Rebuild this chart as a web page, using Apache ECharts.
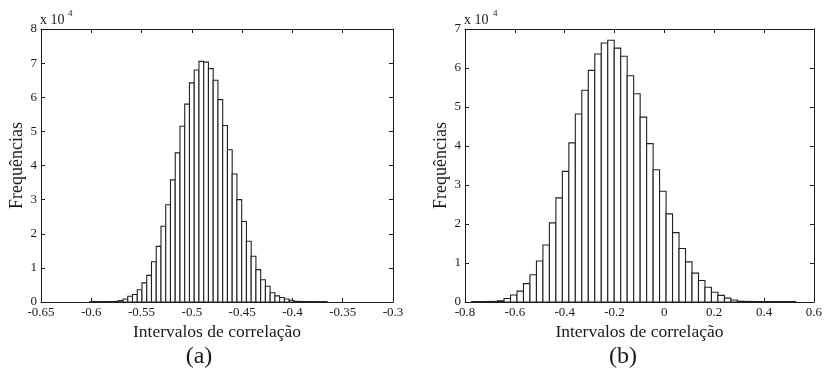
<!DOCTYPE html>
<html>
<head>
<meta charset="utf-8">
<script src="https://cdn.jsdelivr.net/npm/echarts@6/dist/echarts.min.js"></script>
<style>
  html, body { margin: 0; padding: 0; background: #fff; }
  #chart { width: 825px; height: 372px; }
</style>
</head>
<body>
<div id="chart"></div>
<script>
// Histogram (a): 50 equal bins, counts in units of 10^4
const binStartA = -0.6015;
const binWidthA = 0.00472;
const countsA = [
  0.012, 0.012, 0.012, 0.013, 0.014, 0.018,
  0.04, 0.09, 0.17, 0.22, 0.36, 0.56, 0.78, 1.18, 1.63, 2.22,
  2.85, 3.58, 4.37, 5.15, 5.80, 6.42, 6.80, 7.05, 7.03, 6.84,
  6.50, 5.93, 5.17, 4.46, 3.75, 3.00, 2.36, 1.78, 1.34, 0.95,
  0.65, 0.46, 0.27, 0.18, 0.13, 0.09, 0.05,
  0.02, 0.015, 0.013, 0.012, 0.012, 0.012, 0.012
];

// Histogram (b): 50 equal bins, counts in units of 10^4
const binStartB = -0.7734;
const binWidthB = 0.02601;
const countsB = [
  0.012, 0.012, 0.013, 0.015,
  0.03, 0.09, 0.18, 0.28, 0.47, 0.70, 1.05, 1.46, 2.03, 2.67,
  3.35, 4.08, 4.82, 5.43, 5.94, 6.36, 6.64, 6.71, 6.51, 6.30,
  5.80, 5.34, 4.74, 4.06, 3.39, 2.84, 2.26, 1.78, 1.37, 1.03,
  0.74, 0.55, 0.38, 0.25, 0.17, 0.10, 0.05,
  0.02, 0.015, 0.013, 0.012, 0.012, 0.012, 0.012, 0.012, 0.012
];

// Axis ranges and tick steps
const xRangeA = { min: -0.65, max: -0.3, step: 0.05 };
const yRangeA = { min: 0, max: 8, step: 1 };
const xRangeB = { min: -0.8, max: 0.6, step: 0.2 };
const yRangeB = { min: 0, max: 7, step: 1 };

const xTitle = 'Intervalos de correlação';
const yTitle = 'Frequências';
const panelLabels = ['(a)', '(b)'];
const scaleMark = 'x 10';
const scaleExp = '4';

const serif = '"Liberation Serif", "Times New Roman", "DejaVu Serif", serif';
const ink = '#1a1a1a';

function binRows(start, width, counts) {
  return counts.map((c, i) => {
    const lo = start + i * width;
    return [lo, lo + width, c];
  });
}

function renderBin(params, api) {
  const p0 = api.coord([api.value(0), 0]);
  const p1 = api.coord([api.value(1), api.value(2)]);
  return {
    type: 'rect',
    shape: { x: p0[0], y: p1[1], width: p1[0] - p0[0], height: p0[1] - p1[1] },
    style: { fill: '#ffffff', stroke: '#222222', lineWidth: 1.1 }
  };
}

function fmt(v) {
  return String(Math.round(v * 1000) / 1000);
}

function xAxes(gridIndex, r) {
  const common = {
    type: 'value', gridIndex, min: r.min, max: r.max, interval: r.step,
    splitLine: { show: false },
    axisLine: { show: true, onZero: false, lineStyle: { color: ink, width: 1 } },
    axisTick: { show: true, inside: true, length: 4, lineStyle: { color: ink } }
  };
  return [
    Object.assign({}, common, {
      position: 'bottom',
      name: xTitle, nameLocation: 'middle', nameGap: 18,
      nameTextStyle: { fontFamily: serif, fontSize: 17.5, color: ink },
      axisLabel: {
        show: true, margin: 4, fontFamily: serif, fontSize: 13, color: ink,
        showMinLabel: true, showMaxLabel: true, formatter: fmt
      }
    }),
    Object.assign({}, common, { position: 'top', axisLabel: { show: false } })
  ];
}

function yAxes(gridIndex, r) {
  const common = {
    type: 'value', gridIndex, min: r.min, max: r.max, interval: r.step,
    splitLine: { show: false },
    axisLine: { show: true, onZero: false, lineStyle: { color: ink, width: 1 } },
    axisTick: { show: true, inside: true, length: 4, lineStyle: { color: ink } }
  };
  return [
    Object.assign({}, common, {
      position: 'left',
      name: yTitle, nameLocation: 'middle', nameGap: 15,
      nameTextStyle: { fontFamily: serif, fontSize: 18, color: ink },
      axisLabel: {
        show: true, margin: 4, fontFamily: serif, fontSize: 13, color: ink,
        showMinLabel: true, showMaxLabel: true
      }
    }),
    Object.assign({}, common, { position: 'right', axisLabel: { show: false } })
  ];
}

const chart = echarts.init(document.getElementById('chart'), null, { renderer: 'canvas' });

chart.setOption({
  animation: false,
  backgroundColor: '#ffffff',
  grid: [
    { left: 41, top: 29, width: 352, height: 273 },
    { left: 465, top: 29, width: 351, height: 273 }
  ],
  xAxis: [...xAxes(0, xRangeA), ...xAxes(1, xRangeB)],
  yAxis: [...yAxes(0, yRangeA), ...yAxes(1, yRangeB)],
  series: [
    {
      type: 'custom', name: 'a', xAxisIndex: 0, yAxisIndex: 0,
      renderItem: renderBin, encode: { x: [0, 1], y: 2 },
      data: binRows(binStartA, binWidthA, countsA)
    },
    {
      type: 'custom', name: 'b', xAxisIndex: 2, yAxisIndex: 2,
      renderItem: renderBin, encode: { x: [0, 1], y: 2 },
      data: binRows(binStartB, binWidthB, countsB)
    }
  ],
  graphic: [
    { type: 'text', left: 40, top: 13, style: { text: scaleMark, font: '14px ' + serif, fill: ink } },
    { type: 'text', left: 68, top: 9, style: { text: scaleExp, font: '9px ' + serif, fill: ink } },
    { type: 'text', left: 464, top: 13, style: { text: scaleMark, font: '14px ' + serif, fill: ink } },
    { type: 'text', left: 493, top: 9, style: { text: scaleExp, font: '9px ' + serif, fill: ink } },
    { type: 'text', x: 199, y: 357, style: { text: panelLabels[0], font: '24px ' + serif, fill: ink, align: 'center', verticalAlign: 'middle' } },
    { type: 'text', x: 623, y: 357, style: { text: panelLabels[1], font: '24px ' + serif, fill: ink, align: 'center', verticalAlign: 'middle' } }
  ]
});
</script>
</body>
</html>
